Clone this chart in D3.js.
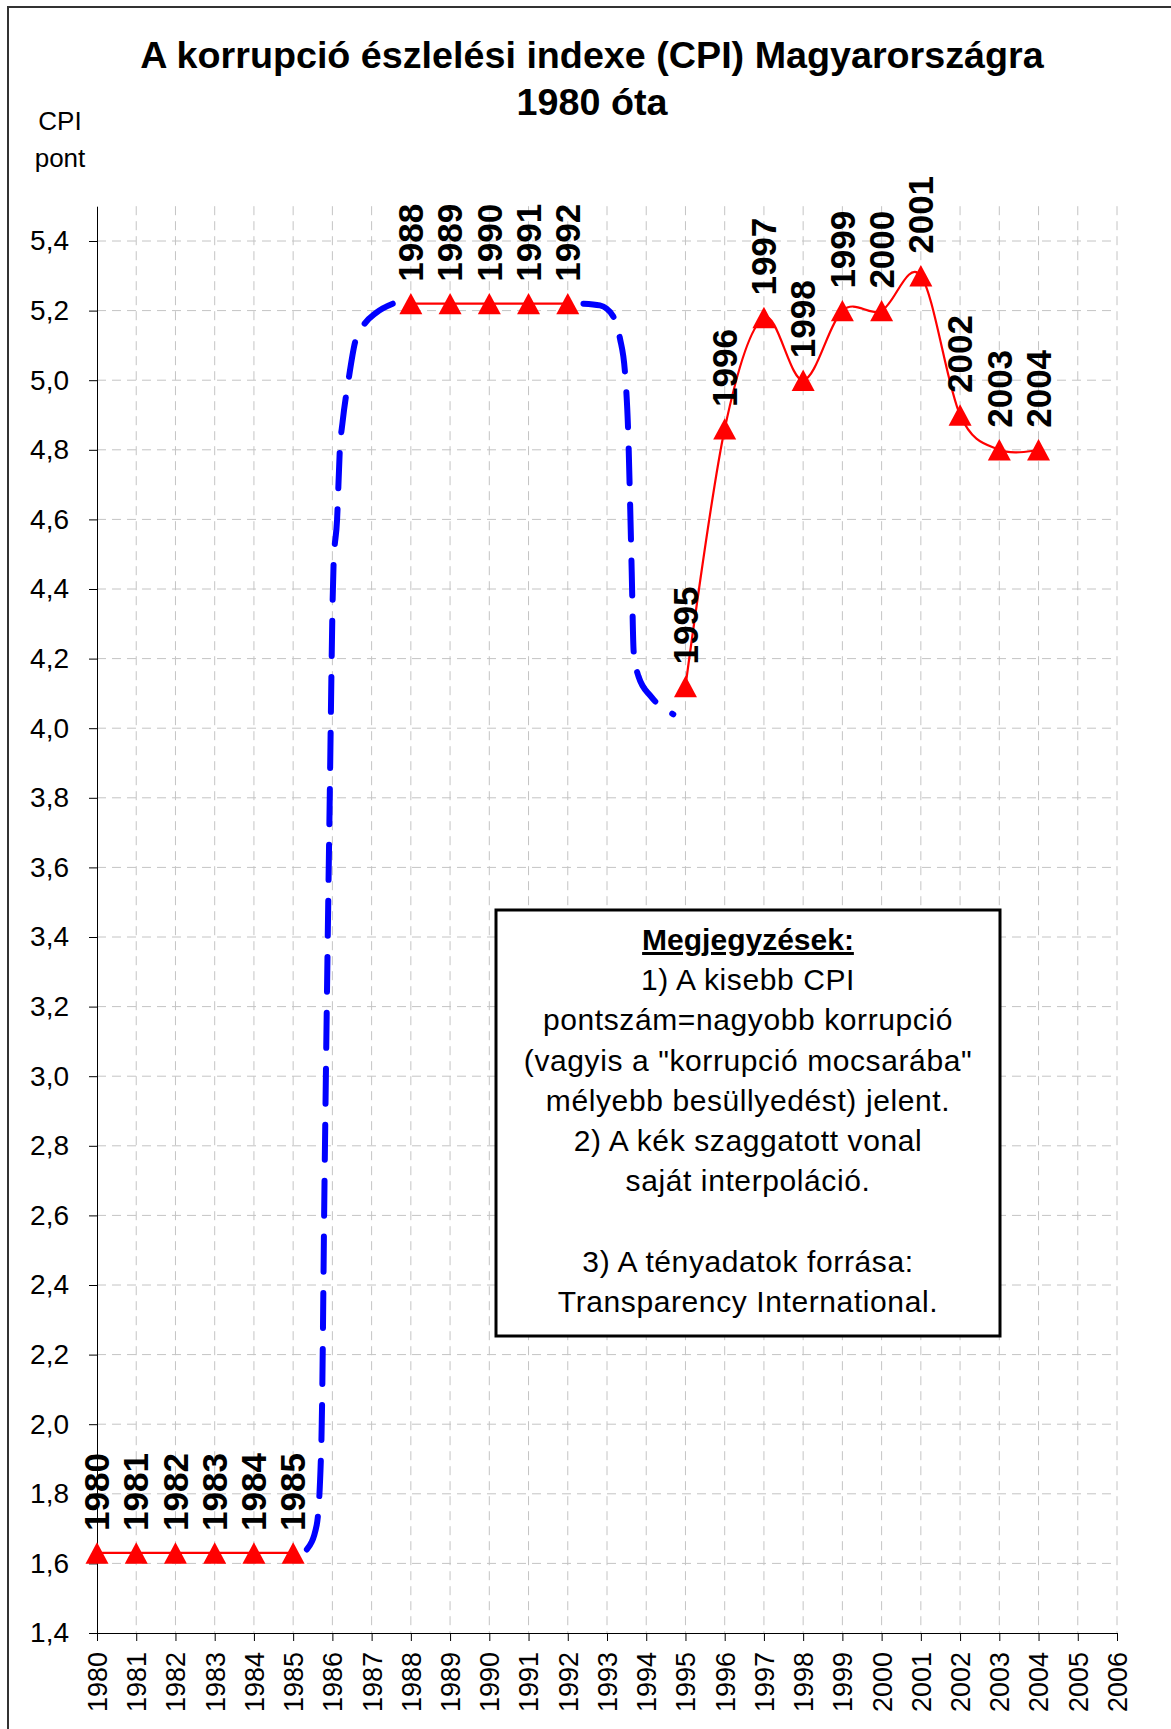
<!DOCTYPE html>
<html><head><meta charset="utf-8">
<script src="https://cdn.jsdelivr.net/npm/d3@7"></script>
<style>body{margin:0;background:#fff} svg{display:block}</style>
</head><body><svg id="c" width="1171" height="1729"></svg>
<script>
const titleLines = ["A korrupció észlelési indexe (CPI) Magyarországra", "1980 óta"];
const yAxisTitle = ["CPI", "pont"];
const xTickYears = [1980,1981,1982,1983,1984,1985,1986,1987,1988,1989,1990,1991,1992,1993,1994,1995,1996,1997,1998,1999,2000,2001,2002,2003,2004,2005,2006];
const yTickValues = [1.4,1.6,1.8,2.0,2.2,2.4,2.6,2.8,3.0,3.2,3.4,3.6,3.8,4.0,4.2,4.4,4.6,4.8,5.0,5.2,5.4];
const yTickLabels = ["1,4","1,6","1,8","2,0","2,2","2,4","2,6","2,8","3,0","3,2","3,4","3,6","3,8","4,0","4,2","4,4","4,6","4,8","5,0","5,2","5,4"];
// Transparency International CPI values (red series)
const redYears  = [1980,1981,1982,1983,1984,1985,1988,1989,1990,1991,1992,1995,1996,1997,1998,1999,2000,2001,2002,2003,2004];
const redValues = [1.63,1.63,1.63,1.63,1.63,1.63,5.22,5.22,5.22,5.22,5.22,4.12,4.86,5.18,5.00,5.20,5.20,5.30,4.90,4.80,4.80];
// blue dashed "own interpolation" series
const blueLeftYears  = [1985.35,1985.60,1985.72,1985.80,1985.92,1986.03,1986.12,1986.19,1986.26,1986.41,1986.58,1986.75,1987.13,1987.54];
const blueLeftValues = [1.64,1.71,1.95,2.70,3.70,4.47,4.60,4.80,4.88,5.00,5.11,5.15,5.195,5.22];
const blueRightYears  = [1992.40,1992.82,1993.15,1993.33,1993.46,1993.54,1993.59,1993.63,1993.68,1993.80,1994.13,1994.69];
const blueRightValues = [5.22,5.215,5.185,5.12,5.02,4.85,4.64,4.45,4.22,4.15,4.09,4.04];
const noteLines = ["Megjegyzések:","1) A kisebb CPI","pontszám=nagyobb korrupció","(vagyis a \"korrupció mocsarába\"","mélyebb besüllyedést) jelent.","2) A kék szaggatott vonal","saját interpoláció.","","3) A tényadatok forrása:","Transparency International."];

const FONT = "'Liberation Sans', Arial, sans-serif";
const svg = d3.select("#c");
const x = d3.scaleLinear().domain([1980, 2006]).range([97, 1117]);
const y = d3.scaleLinear().domain([1.4, 5.5]).range([1633, 206.2]);

svg.append("rect").attr("width",1171).attr("height",1729).attr("fill","#fff");
svg.append("rect").attr("x",8).attr("y",7).attr("width",1300).attr("height",1900)
  .attr("fill","none").attr("stroke","#333").attr("stroke-width",2);

// title
svg.append("g").selectAll("text").data(titleLines).join("text")
  .attr("x",592).attr("y",(d,i)=>68+i*47).attr("text-anchor","middle")
  .attr("font-family",FONT).attr("font-weight","bold").attr("font-size",37.7).text(d=>d);
svg.append("g").selectAll("text").data(yAxisTitle).join("text")
  .attr("x",60).attr("y",(d,i)=>130+i*37).attr("text-anchor","middle")
  .attr("font-family",FONT).attr("font-size",26).text(d=>d);

// grid
const grid = svg.append("g").attr("stroke","#c4c4c4").attr("stroke-width",1).attr("stroke-dasharray","9,6");
grid.selectAll("line.h").data(yTickValues.slice(1)).join("line").attr("class","h")
  .attr("x1",x(1980)).attr("x2",x(2006)).attr("y1",d=>y(d)).attr("y2",d=>y(d));
grid.selectAll("line.v").data(xTickYears.slice(1)).join("line").attr("class","v")
  .attr("x1",d=>x(d)).attr("x2",d=>x(d)).attr("y1",y(5.5)).attr("y2",y(1.4));

// axes
const ya = svg.append("g").attr("transform",`translate(${x(1980)},0)`)
  .call(d3.axisLeft(y).tickValues(yTickValues).tickFormat((d,i)=>yTickLabels[i]).tickSize(8).tickSizeOuter(0).tickPadding(20));
ya.selectAll("text").attr("font-family",FONT).attr("font-size",28).attr("fill","#000");
ya.selectAll("line,path").attr("stroke","#000");
const xa = svg.append("g").attr("transform",`translate(0,${y(1.4)})`)
  .call(d3.axisBottom(x).tickValues(xTickYears).tickFormat(d3.format("d")).tickSize(8).tickSizeOuter(0));
xa.selectAll("text").attr("font-family",FONT).attr("font-size",27).attr("fill","#000")
  .attr("transform","rotate(-90)").attr("x",-19).attr("y",0).attr("dy","0.35em").attr("text-anchor","end");
xa.selectAll("line,path").attr("stroke","#000");

// blue interpolation
const blueLine = d3.line().x(d=>x(d[0])).y(d=>y(d[1])).curve(d3.curveMonotoneX);
[[blueLeftYears,blueLeftValues],[blueRightYears,blueRightValues]].forEach(([ys,vs])=>{
  svg.append("path").attr("d",blueLine(ys.map((yr,i)=>[yr,vs[i]])))
    .attr("fill","none").attr("stroke","#0000ff").attr("stroke-width",6)
    .attr("stroke-linecap","round").attr("stroke-dasharray","35,21");
});

// red series split into consecutive-year segments
const pts = redYears.map((yr,i)=>({year:yr,value:redValues[i]}));
const segs = [];
pts.forEach((p,i)=>{ if(i===0 || p.year-pts[i-1].year>1) segs.push([]); segs[segs.length-1].push(p); });
const redLine = d3.line().x(d=>x(d.year)).y(d=>y(d.value)).curve(d3.curveCardinal.tension(0));
svg.append("g").selectAll("path").data(segs).join("path").attr("d",redLine)
  .attr("fill","none").attr("stroke","#ff0000").attr("stroke-width",2.2);

const tri = { draw(ctx,size){ const w=Math.sqrt(size), h=w*0.93; ctx.moveTo(0,-h/2); ctx.lineTo(w/2,h/2); ctx.lineTo(-w/2,h/2); ctx.closePath(); } };
svg.append("g").selectAll("path").data(pts).join("path")
  .attr("transform",d=>`translate(${x(d.year)},${y(d.value)})`)
  .attr("d",d3.symbol().type(tri).size(529)).attr("fill","#ff0000");

svg.append("g").selectAll("text").data(pts).join("text")
  .attr("transform",d=>`translate(${x(d.year)},${y(d.value)-22}) rotate(-90)`)
  .attr("dy","0.35em").attr("text-anchor","start")
  .attr("font-family",FONT).attr("font-weight","bold").attr("font-size",35).text(d=>d.year);

// notes box
svg.append("rect").attr("x",496).attr("y",910).attr("width",504).attr("height",426)
  .attr("fill","#fff").attr("stroke","#000").attr("stroke-width",3);
svg.append("g").selectAll("text").data(noteLines).join("text")
  .attr("x",748).attr("y",(d,i)=>950+i*40.2).attr("text-anchor","middle")
  .attr("font-family",FONT).attr("font-size",30).attr("letter-spacing",(d,i)=>i===0?0:0.6)
  .attr("font-weight",(d,i)=>i===0?"bold":"normal")
  .attr("text-decoration",(d,i)=>i===0?"underline":"none").text(d=>d);
</script></body></html>
